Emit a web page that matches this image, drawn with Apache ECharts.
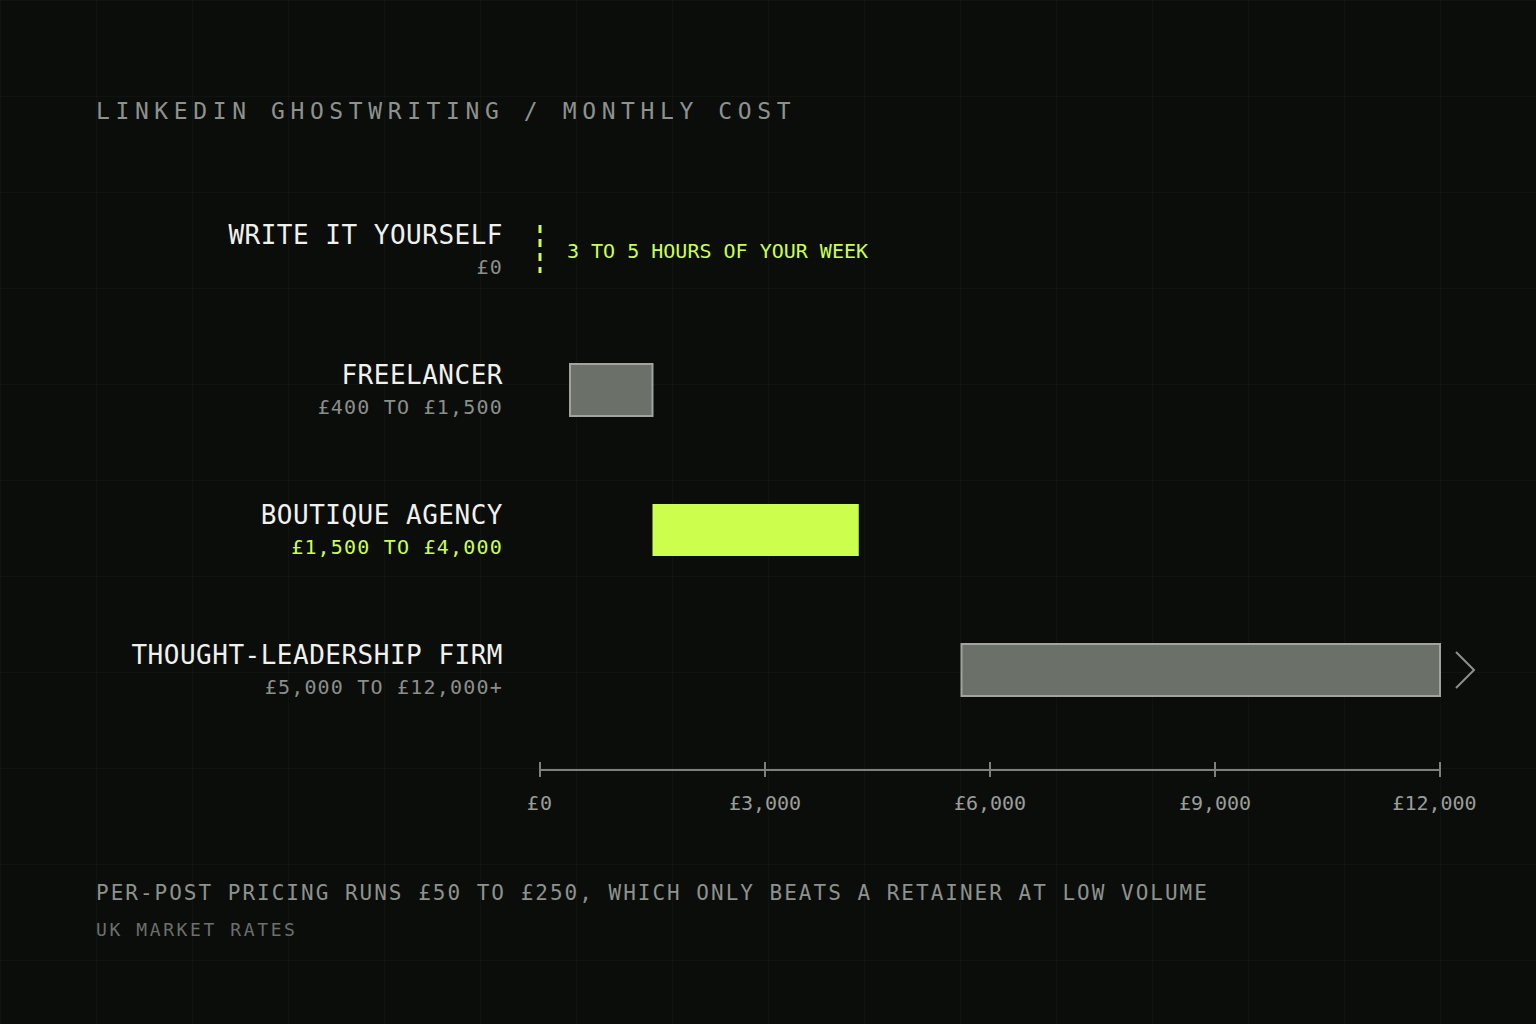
<!DOCTYPE html>
<html>
<head>
<meta charset="utf-8">
<script src="https://cdn.jsdelivr.net/npm/echarts@6/dist/echarts.min.js"></script>
<style>
html, body { margin: 0; padding: 0; width: 1536px; height: 1024px; overflow: hidden; background-color: #0b0d0b; }
body {
  background-image:
    linear-gradient(to right, rgba(255,255,255,0.022) 1px, transparent 1px),
    linear-gradient(to bottom, rgba(255,255,255,0.022) 1px, transparent 1px);
  background-size: 96px 96px;
}
#chart { width: 1536px; height: 1024px; }
</style>
</head>
<body>
<div id="chart"></div>
<script>
// ---- data ----
const categories = ['WRITE IT YOURSELF', 'FREELANCER', 'BOUTIQUE AGENCY', 'THOUGHT-LEADERSHIP FIRM'];
const rangeLabels = ['£0', '£400 TO £1,500', '£1,500 TO £4,000', '£5,000 TO £12,000+'];
const rangeStart = [0, 400, 1500, 5620];
const rangeEnd = [0, 1500, 4250, 12000];
const openEnded = [false, false, false, true];
const highlighted = [false, false, true, false];
const notes = ['3 TO 5 HOURS OF YOUR WEEK', '', '', ''];
const axisMin = 0;
const axisMax = 12000;
const tickStep = 3000;
const tickLabels = ['£0', '£3,000', '£6,000', '£9,000', '£12,000'];
const titleText = 'LINKEDIN GHOSTWRITING / MONTHLY COST';
const footnote = 'PER-POST PRICING RUNS £50 TO £250, WHICH ONLY BEATS A RETAINER AT LOW VOLUME';
const source = 'UK MARKET RATES';

// ---- styles ----
const FONT = '"DejaVu Sans Mono", "Liberation Mono", monospace';
const GREEN = '#ccff4d';
const BAR_FILL = '#6b7069';
const BAR_STROKE = '#a0a49d';
const AXIS = '#7d817b';
const TICK_TEXT = '#9a9d97';

const seriesData = categories.map((c, i) => [rangeStart[i], rangeEnd[i], i]);

const chart = echarts.init(document.getElementById('chart'), null, { renderer: 'svg' });

const option = {
  backgroundColor: 'transparent',
  animation: false,
  title: [
    {
      text: titleText, left: 96, top: 99, padding: 0,
      textStyle: { color: '#8e928c', fontSize: 23, fontWeight: 'normal', fontFamily: FONT, lineHeight: 24 }
    },
    {
      text: footnote, subtext: source, left: 96, top: 882, padding: 0, itemGap: 16,
      textStyle: { color: '#8e928c', fontSize: 21, fontWeight: 'normal', fontFamily: FONT, lineHeight: 22 },
      subtextStyle: { color: '#6c706a', fontSize: 18, fontFamily: FONT, lineHeight: 18 }
    }
  ],
  grid: { left: 540, right: 96, top: 180, bottom: 284, containLabel: false },
  xAxis: [
    {
      type: 'value', min: axisMin, max: axisMax, interval: tickStep, position: 'bottom', offset: 30,
      axisLine: { show: true, lineStyle: { color: AXIS, width: 2 } },
      axisTick: { show: true, length: 7, lineStyle: { color: AXIS, width: 2 } },
      axisLabel: {
        color: TICK_TEXT, fontSize: 20, fontFamily: FONT, margin: 23,
        formatter: (v) => {
          const idx = Math.round((v - axisMin) / tickStep);
          const t = tickLabels[idx];
          return idx === tickLabels.length - 1 ? '{last|' + t + '}' : t;
        },
        rich: {
          last: { color: TICK_TEXT, fontSize: 20, fontFamily: FONT, padding: [0, 11, 0, 0] }
        }
      },
      splitLine: { show: false }
    },
    {
      type: 'value', min: axisMin, max: axisMax, interval: tickStep, position: 'bottom', offset: 30,
      axisLine: { show: false },
      axisTick: { show: true, inside: true, length: 8, lineStyle: { color: AXIS, width: 2 } },
      axisLabel: { show: false },
      splitLine: { show: false }
    }
  ],
  yAxis: {
    type: 'category', data: categories, inverse: true,
    axisLine: { show: false }, axisTick: { show: false }, splitLine: { show: false },
    axisLabel: {
      margin: 37, align: 'right',
      formatter: (value, index) => '{name|' + value + '}\n{' + (highlighted[index] ? 'subHi' : 'sub') + '|' + rangeLabels[index] + '}',
      rich: {
        name: { fontSize: 26, color: '#f1f1ec', fontFamily: FONT, lineHeight: 34, align: 'right' },
        sub: { fontSize: 20, color: '#8b8f89', fontFamily: FONT, lineHeight: 30, align: 'right' },
        subHi: { fontSize: 20, color: GREEN, fontFamily: FONT, lineHeight: 30, align: 'right' }
      }
    }
  },
  series: [{
    type: 'custom',
    silent: true,
    xAxisIndex: 0,
    encode: { x: [0, 1], y: 2 },
    data: seriesData,
    renderItem: function (params, api) {
      const i = params.dataIndex;
      const s = api.value(0), e = api.value(1), c = api.value(2);
      const p0 = api.coord([s, c]);
      const p1 = api.coord([e, c]);
      const cy = p0[1];
      const children = [];
      if (e - s <= 0) {
        children.push({
          type: 'line',
          shape: { x1: p0[0], y1: cy - 25, x2: p0[0], y2: cy + 23 },
          style: { stroke: GREEN, lineWidth: 3, lineDash: [8, 6] }
        });
        if (notes[i]) {
          children.push({
            type: 'text',
            style: {
              text: notes[i], x: p0[0] + 27, y: cy + 1,
              fill: GREEN, fontSize: 20, fontFamily: FONT, align: 'left', verticalAlign: 'middle'
            }
          });
        }
      } else {
        const hi = highlighted[i];
        children.push({
          type: 'rect',
          shape: { x: p0[0], y: cy - 26, width: p1[0] - p0[0], height: 52 },
          style: hi ? { fill: GREEN } : { fill: BAR_FILL, stroke: BAR_STROKE, lineWidth: 2 }
        });
        if (openEnded[i]) {
          children.push({
            type: 'polyline',
            shape: { points: [[p1[0] + 16, cy - 18], [p1[0] + 34, cy], [p1[0] + 16, cy + 18]] },
            style: { stroke: '#8d918b', lineWidth: 2, fill: null }
          });
        }
      }
      return { type: 'group', children: children };
    }
  }]
};

chart.setOption(option);

// letter spacing tuned per text (SVG renderer)
const spacing = new Map();
spacing.set(titleText, 5.6);
spacing.set(footnote, 2.0);
spacing.set(source, 2.6);
categories.forEach(c => spacing.set(c, 0.5));
rangeLabels.forEach(r => spacing.set(r, 1.2));
function applySpacing() {
  chart.getDom().querySelectorAll('text').forEach(t => {
    const v = spacing.get(t.textContent);
    if (v && t.getAttribute('letter-spacing') !== v + 'px') t.setAttribute('letter-spacing', v + 'px');
  });
}
applySpacing();
chart.on('rendered', applySpacing);
chart.on('finished', applySpacing);
setTimeout(applySpacing, 50);
setTimeout(applySpacing, 300);
</script>
</body>
</html>
